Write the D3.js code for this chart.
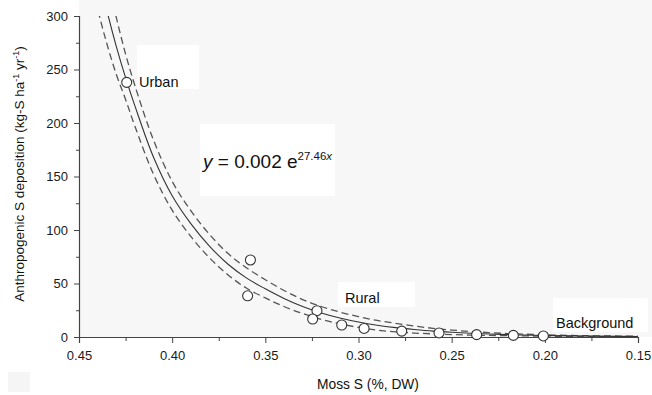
<!DOCTYPE html>
<html>
<head>
<meta charset="utf-8">
<script src="https://cdn.jsdelivr.net/npm/d3@7"></script>
<style>
  html, body { margin: 0; padding: 0; background: #fff; }
  svg { display: block; font-family: "Liberation Sans", Arial, sans-serif; }
</style>
</head>
<body>
<svg id="chart" width="652" height="395"></svg>
<script>
// observed sites: moss S (%, DW) vs anthropogenic S deposition
const mossS = [0.4244, 0.358, 0.3595, 0.3223, 0.3246, 0.309, 0.297, 0.2768, 0.2568, 0.2366, 0.2169, 0.2008];
const deposition = [238, 72, 38.5, 24.6, 16.8, 11.2, 8.0, 5.5, 3.8, 2.2, 1.5, 1.0];

// fitted curve and its dashed bands
const curveX = [0.445, 0.44, 0.435, 0.43, 0.425, 0.42, 0.41, 0.40, 0.39, 0.38, 0.37, 0.36, 0.35, 0.34, 0.33,
  0.32, 0.31, 0.30, 0.29, 0.28, 0.27, 0.26, 0.25, 0.24, 0.23, 0.22, 0.21, 0.20, 0.18, 0.16, 0.15];
const fitY = [383, 341.6, 304.8, 271.7, 242.4, 216, 168, 132, 106, 85, 68, 55, 45, 36, 28.5,
  22.5, 17.8, 14, 11, 8.75, 7, 5.5, 4.4, 3.5, 2.8, 2.2, 1.8, 1.4, 0.9, 0.6, 0.45];
const upperY = [421, 376.6, 335.8, 298.7, 264.4, 235, 184, 145.5, 118, 96, 78, 64.5, 53.5, 43.5, 35,
  28.5, 23.3, 19, 15.5, 12.75, 10.3, 8.1, 6.5, 5.2, 4.1, 3.2, 2.6, 2.0, 1.3, 0.9, 0.75];
const lowerY = [345, 306.6, 273.8, 245.5, 222, 197, 152, 118.5, 94, 74, 58, 45.5, 36.5, 28.5, 22,
  16.5, 12.3, 9, 6.5, 4.75, 3.7, 2.9, 2.3, 1.8, 1.5, 1.2, 1.0, 0.8, 0.5, 0.3, 0.15];

const xTicks = [0.45, 0.40, 0.35, 0.30, 0.25, 0.20, 0.15];
const xMinorTicks = [0.425, 0.375, 0.325, 0.275, 0.225, 0.175];
const yTicks = [0, 50, 100, 150, 200, 250, 300];
const yMinorTicks = [25, 75, 125, 175, 225, 275];

const svg = d3.select('#chart');
const plotLeft = 79, plotRight = 638, plotTop = 16, plotBottom = 337;

const x = d3.scaleLinear().domain([0.45, 0.15]).range([plotLeft, plotRight]);
const y = d3.scaleLinear().domain([0, 300]).range([plotBottom, plotTop]);

// plot background and the white label boxes
svg.append('rect').attr('x', plotLeft).attr('y', 0).attr('width', 652 - plotLeft).attr('height', plotBottom)
  .attr('fill', '#f7f7f7');
svg.append('rect').attr('x', 8).attr('y', 372).attr('width', 22).attr('height', 20).attr('fill', '#f5f5f5');

const boxes = [
  [137, 45, 62, 44],
  [200, 124, 135, 72],
  [338, 282, 77, 25],
  [553, 298, 95, 34],
];
svg.append('g').selectAll('rect').data(boxes).join('rect')
  .attr('x', (d) => d[0]).attr('y', (d) => d[1])
  .attr('width', (d) => d[2]).attr('height', (d) => d[3])
  .attr('fill', '#fff');

svg.append('clipPath').attr('id', 'plot-clip')
  .append('rect').attr('x', plotLeft).attr('y', plotTop)
  .attr('width', plotRight - plotLeft).attr('height', plotBottom - plotTop);

// axes
svg.append('g').attr('transform', `translate(0,${plotBottom})`)
  .call(d3.axisBottom(x).tickValues(xTicks).tickFormat(d3.format('.2f')).tickSize(6).tickPadding(8));
svg.append('g').attr('transform', `translate(0,${plotBottom})`)
  .call(d3.axisBottom(x).tickValues(xMinorTicks).tickFormat('').tickSize(4))
  .call((g) => g.select('.domain').remove());
svg.append('g').attr('transform', `translate(${plotLeft},0)`)
  .call(d3.axisLeft(y).tickValues(yTicks).tickSize(5).tickPadding(6));
svg.append('g').attr('transform', `translate(${plotLeft},0)`)
  .call(d3.axisLeft(y).tickValues(yMinorTicks).tickFormat('').tickSize(3))
  .call((g) => g.select('.domain').remove());

svg.selectAll('.domain').attr('stroke', '#444').attr('stroke-width', 1.2);
svg.selectAll('.tick line').attr('stroke', '#444');
svg.selectAll('.tick text').attr('fill', '#1a1a1a').style('font-size', '13px')
  .style('font-family', '"Liberation Sans", Arial, sans-serif');

// curves
const plot = svg.append('g').attr('clip-path', 'url(#plot-clip)');
const line = (vals) => d3.line()
  .x((d, i) => x(curveX[i]))
  .y((d) => y(d))
  .curve(d3.curveCatmullRom.alpha(0.5))(vals);

plot.append('path').attr('d', line(upperY)).attr('fill', 'none')
  .attr('stroke', '#555').attr('stroke-width', 1.3).attr('stroke-dasharray', '7,4');
plot.append('path').attr('d', line(lowerY)).attr('fill', 'none')
  .attr('stroke', '#555').attr('stroke-width', 1.3).attr('stroke-dasharray', '7,4');
plot.append('path').attr('d', line(fitY)).attr('fill', 'none')
  .attr('stroke', '#333').attr('stroke-width', 1.1);

// points
svg.append('g').selectAll('circle').data(mossS).join('circle')
  .attr('cx', (d) => x(d))
  .attr('cy', (d, i) => y(deposition[i]))
  .attr('r', 5)
  .attr('fill', '#fff')
  .attr('stroke', '#333')
  .attr('stroke-width', 1.1);

// site labels
const labelStyle = (t) => t.attr('fill', '#111').style('font-size', '14.5px');
labelStyle(svg.append('text').attr('x', 139).attr('y', 87).text('Urban'));
labelStyle(svg.append('text').attr('x', 345).attr('y', 303).text('Rural'));
labelStyle(svg.append('text').attr('x', 556).attr('y', 328).text('Background'));

// equation
const eq = svg.append('text').attr('x', 203).attr('y', 168).attr('fill', '#111').style('font-size', '19px');
eq.append('tspan').style('font-style', 'italic').text('y');
eq.append('tspan').text(' = 0.002 e');
eq.append('tspan').attr('dy', -8).style('font-size', '11.5px').text('27.46');
eq.append('tspan').style('font-size', '11.5px').style('font-style', 'italic').text('x');

// axis titles
svg.append('text').attr('x', 368).attr('y', 389).attr('text-anchor', 'middle')
  .attr('fill', '#111').style('font-size', '13.8px').text('Moss S (%, DW)');

const yTitle = svg.append('text')
  .attr('transform', 'translate(24,174) rotate(-90)')
  .attr('text-anchor', 'middle').attr('fill', '#111').style('font-size', '13.5px');
yTitle.append('tspan').text('Anthropogenic S deposition (kg-S ha');
yTitle.append('tspan').attr('dy', -5).style('font-size', '9px').text('-1');
yTitle.append('tspan').attr('dy', 5).text(' yr');
yTitle.append('tspan').attr('dy', -5).style('font-size', '9px').text('-1');
yTitle.append('tspan').attr('dy', 5).text(')');
</script>
</body>
</html>
